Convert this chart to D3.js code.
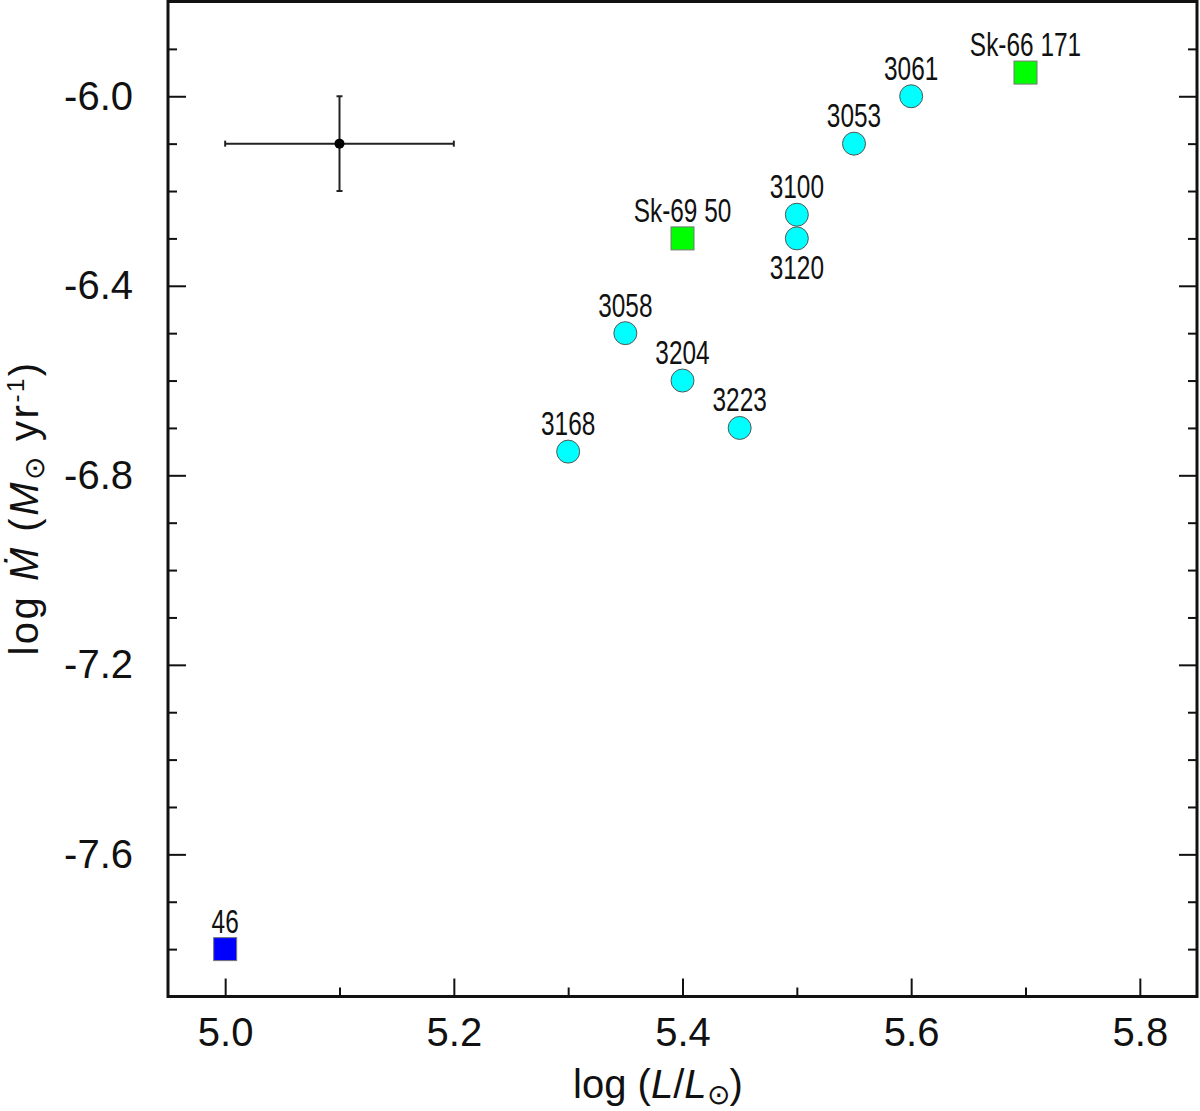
<!DOCTYPE html>
<html><head><meta charset="utf-8">
<script src="https://cdn.jsdelivr.net/npm/d3@7/dist/d3.min.js"></script>
<style>
body{margin:0;background:#fff}
svg{display:block}
.tick text{font-family:"Liberation Sans",Arial,sans-serif;font-size:40px;fill:#111}
.lbl{font-family:"Liberation Sans",Arial,sans-serif;font-size:33px;fill:#111}
.axtitle{font-family:"Liberation Sans",Arial,sans-serif;font-size:40px;fill:#111}
</style>
</head><body>
<svg id="c" width="1200" height="1111"></svg>
<script>
// ---- data ----
const names    = ["46", "Sk-69 50", "Sk-66 171", "3061", "3053", "3100", "3120", "3058", "3204", "3223", "3168"];
const logL     = [5.00, 5.40, 5.70, 5.60, 5.55, 5.50, 5.50, 5.35, 5.40, 5.45, 5.30];
const logMdot  = [-7.80, -6.30, -5.95, -6.00, -6.10, -6.25, -6.30, -6.50, -6.60, -6.70, -6.75];
const shapes   = ["square", "square", "square", "circle", "circle", "circle", "circle", "circle", "circle", "circle", "circle"];
const fills    = ["#0000ff", "#00ff00", "#00ff00", "#00ffff", "#00ffff", "#00ffff", "#00ffff", "#00ffff", "#00ffff", "#00ffff", "#00ffff"];
const labelSide= ["above", "above", "above", "above", "above", "above", "below", "above", "above", "above", "above"];

// typical error bar
const errCenterX = [5.10];
const errCenterY = [-6.10];
const errHalfX   = [0.10];
const errHalfY   = [0.10];

// axes
const xDomain = [4.95, 5.85];
const yDomain = [-7.9, -5.8];
const xMajor = [5.0, 5.2, 5.4, 5.6, 5.8];
const xMajorLabels = ["5.0", "5.2", "5.4", "5.6", "5.8"];
const xMinor = [5.1, 5.3, 5.5, 5.7];
const yMajor = [-6.0, -6.4, -6.8, -7.2, -7.6];
const yMajorLabels = ["-6.0", "-6.4", "-6.8", "-7.2", "-7.6"];
const yMinor = [-5.9, -6.1, -6.2, -6.3, -6.5, -6.6, -6.7, -6.9, -7.0, -7.1, -7.3, -7.4, -7.5, -7.7, -7.8];

// ---- layout ----
const L = 168, R = 1197, T = 1.5, B = 996.5;
const svg = d3.select("#c");
const x = d3.scaleLinear().domain(xDomain).range([L, R]);
const y = d3.scaleLinear().domain(yDomain).range([B, T]);

// bottom axis
const gB = svg.append("g").attr("transform", `translate(0,${B})`);
gB.call(d3.axisBottom(x).tickValues(xMajor).tickSize(-18).tickPadding(21)
  .tickFormat((d,i)=>xMajorLabels[i]));
const gBm = svg.append("g").attr("transform", `translate(0,${B})`);
gBm.call(d3.axisBottom(x).tickValues(xMinor).tickSize(-9).tickFormat(""));

// left axis
const gL = svg.append("g").attr("transform", `translate(${L},0)`);
gL.call(d3.axisLeft(y).tickValues(yMajor).tickSize(-18).tickPadding(35)
  .tickFormat((d,i)=>yMajorLabels[i]));
const gLm = svg.append("g").attr("transform", `translate(${L},0)`);
gLm.call(d3.axisLeft(y).tickValues(yMinor).tickSize(-9).tickFormat(""));

// right axis (ticks only)
const gR = svg.append("g").attr("transform", `translate(${R},0)`);
gR.call(d3.axisRight(y).tickValues(yMajor).tickSize(-18).tickFormat(""));
const gRm = svg.append("g").attr("transform", `translate(${R},0)`);
gRm.call(d3.axisRight(y).tickValues(yMinor).tickSize(-9).tickFormat(""));

svg.selectAll(".domain").remove();
svg.selectAll(".tick line").attr("stroke", "#111").attr("stroke-width", 2);
svg.selectAll(".tick text").attr("font-family", null).attr("font-size", null);

// frame
svg.append("rect").attr("x", L).attr("y", T).attr("width", R - L).attr("height", B - T)
  .attr("fill", "none").attr("stroke", "#111").attr("stroke-width", 3);

// error bar
const eg = svg.append("g").attr("stroke", "#222").attr("stroke-width", 2);
errCenterX.forEach((cx, i) => {
  const cy = errCenterY[i];
  eg.append("line").attr("x1", x(cx - errHalfX[i])).attr("x2", x(cx + errHalfX[i])).attr("y1", y(cy)).attr("y2", y(cy));
  eg.append("line").attr("x1", x(cx)).attr("x2", x(cx)).attr("y1", y(cy - errHalfY[i])).attr("y2", y(cy + errHalfY[i]));
  [cx - errHalfX[i], cx + errHalfX[i]].forEach(v =>
    eg.append("line").attr("x1", x(v)).attr("x2", x(v)).attr("y1", y(cy) - 3).attr("y2", y(cy) + 3));
  [cy - errHalfY[i], cy + errHalfY[i]].forEach(v =>
    eg.append("line").attr("x1", x(cx) - 3).attr("x2", x(cx) + 3).attr("y1", y(v)).attr("y2", y(v)));
  svg.append("circle").attr("cx", x(cx)).attr("cy", y(cy)).attr("r", 5).attr("fill", "#000");
});

// points
const pts = names.map((n, i) => ({n, lx: logL[i], ly: logMdot[i], shape: shapes[i], fill: fills[i], side: labelSide[i]}));
const half = 11.5;
const pg = svg.append("g");
pts.forEach(p => {
  const px = x(p.lx), py = y(p.ly);
  if (p.shape === "square") {
    pg.append("rect").attr("x", px - half).attr("y", py - half).attr("width", 2 * half).attr("height", 2 * half)
      .attr("fill", p.fill).attr("stroke", "#777").attr("stroke-width", 1);
  } else {
    pg.append("circle").attr("cx", px).attr("cy", py).attr("r", half)
      .attr("fill", p.fill).attr("stroke", "#555").attr("stroke-width", 1);
  }
  const ty = p.side === "above" ? py - half - 5 : py + half + 29;
  pg.append("text").attr("class", "lbl")
    .attr("transform", `translate(${px},${ty}) scale(0.74,1)`)
    .attr("text-anchor", "middle").text(p.n);
});

// axis titles
const xt = svg.append("text").attr("class", "axtitle").attr("x", 658).attr("y", 1098).attr("text-anchor", "middle");
xt.append("tspan").text("log (");
xt.append("tspan").attr("font-style", "italic").text("L");
xt.append("tspan").text("/");
xt.append("tspan").attr("font-style", "italic").text("L");
xt.append("tspan").attr("font-size", "28px").attr("dy", 6).text("\u2299");
xt.append("tspan").attr("dy", -6).text(")");

const yt = svg.append("text").attr("class", "axtitle")
  .attr("transform", "translate(38,508) rotate(-90)").attr("text-anchor", "middle")
  .attr("letter-spacing", "2.5px");
yt.append("tspan").text("log ");
yt.append("tspan").attr("font-style", "italic").text("\u1E40");
yt.append("tspan").text("  (");
yt.append("tspan").attr("font-style", "italic").text("M");
yt.append("tspan").attr("font-size", "28px").attr("dy", 6).text("\u2299");
yt.append("tspan").attr("dy", -6).text(" yr");
yt.append("tspan").attr("font-size", "24px").attr("dy", -14).text("-1");
yt.append("tspan").attr("dy", 14).text(")");
</script>
</body></html>
